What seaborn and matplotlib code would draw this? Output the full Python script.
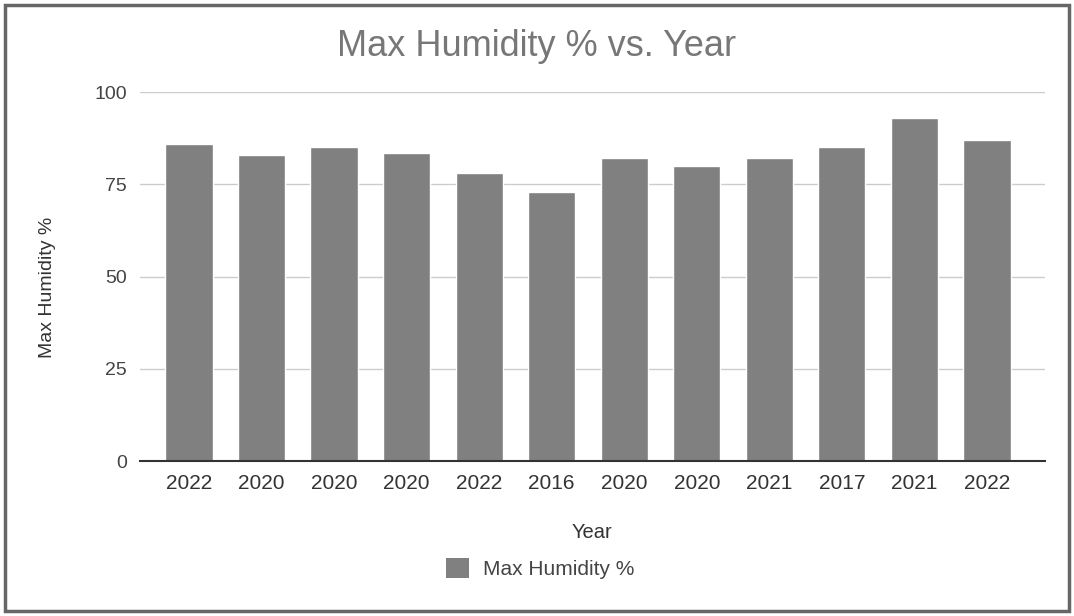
import matplotlib
matplotlib.use("Agg")
import matplotlib.pyplot as plt
from matplotlib.patches import Rectangle, Patch
import seaborn as sns
import pandas as pd

years = ["2022", "2020", "2020", "2020", "2022", "2016",
         "2020", "2020", "2021", "2017", "2021", "2022"]
max_humidity = [86, 83, 85, 83.5, 78, 73, 82, 80, 82, 85, 93, 87]
y_ticks = [0, 25, 50, 75, 100]

sns.set_theme(style="white")
plt.rcParams["font.family"] = ["Liberation Sans", "DejaVu Sans"]

df = pd.DataFrame({"idx": list(range(len(years))), "Year": years,
                   "Max Humidity %": max_humidity})

fig = plt.figure(figsize=(10.74, 6.16), dpi=100)
ax = fig.add_axes([0.130, 0.2516, 0.843, 0.599])

sns.barplot(data=df, x="idx", y="Max Humidity %", color="#808080",
            saturation=1, width=0.65, ax=ax, zorder=3)

ax.set_xlim(-0.68, 11.8)
ax.set_ylim(0, 100)
ax.set_yticks(y_ticks)
ax.set_yticklabels([str(t) for t in y_ticks], color="#444444", fontsize=14)
ax.set_xticks(range(len(years)))
ax.set_xticklabels(years, color="#333333", fontsize=15)
ax.tick_params(axis="y", length=0, pad=9)
ax.tick_params(axis="x", length=0, pad=9)

ax.grid(axis="y", color="#cccccc", linewidth=1, zorder=0)
for s in ["top", "right", "left"]:
    ax.spines[s].set_visible(False)
ax.spines["bottom"].set_color("#333333")
ax.spines["bottom"].set_linewidth(1.5)
ax.spines["bottom"].set_zorder(4)

ax.set_xlabel("Year", fontsize=14.5, color="#333333", labelpad=22)
ax.set_ylabel("Max Humidity %", fontsize=14, color="#333333", labelpad=40)
ax.yaxis.set_label_coords(-0.092, 0.47)

fig.suptitle("Max Humidity % vs. Year", x=0.5, y=0.925, fontsize=26,
             color="#777777", va="center")

handle = Patch(facecolor="#808080", edgecolor="none")
fig.legend([handle], ["Max Humidity %"], loc="center",
           bbox_to_anchor=(0.503, 0.077), frameon=False, fontsize=15,
           handlelength=1.1, handleheight=1.1, handletextpad=0.7,
           labelcolor="#444444")

fig.patches.append(Rectangle((0.005, 0.008), 0.99, 0.984,
                             transform=fig.transFigure, fill=False,
                             edgecolor="#666666", linewidth=2.5))

fig.savefig("out.png", dpi=100)
